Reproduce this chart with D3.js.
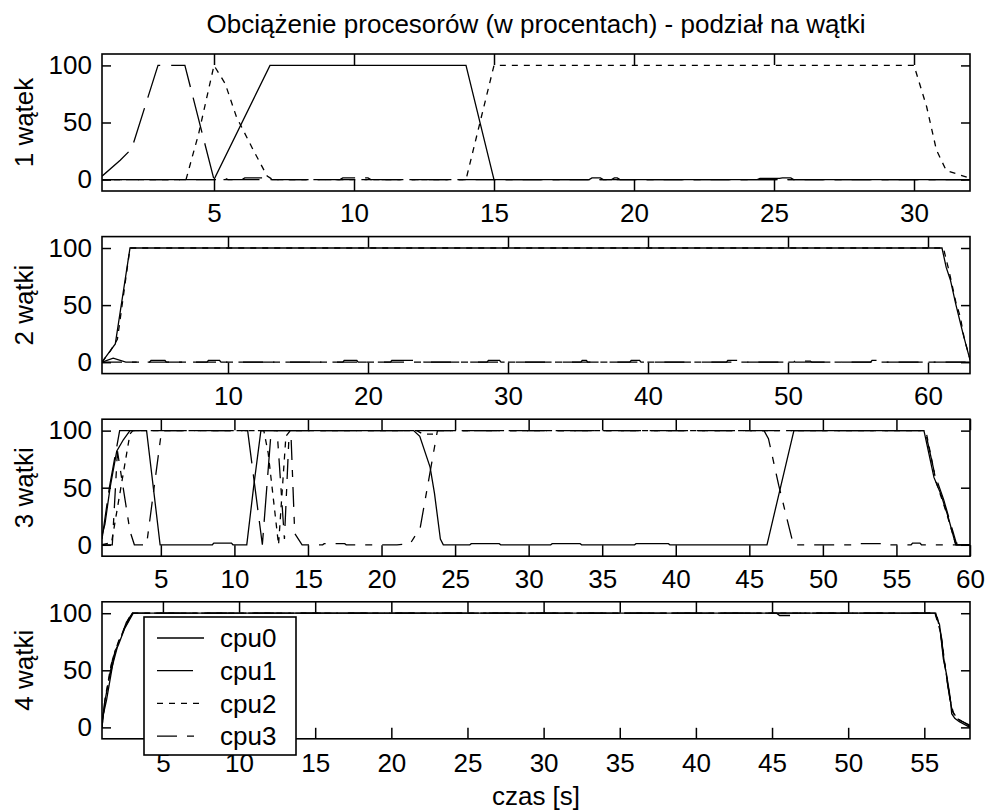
<!DOCTYPE html>
<html>
<head>
<meta charset="utf-8">
<script src="https://cdnjs.cloudflare.com/ajax/libs/d3/7.8.5/d3.min.js"></script>
<style>
  body { margin: 0; background: #fff; }
  text { font-family: "Liberation Sans", Arial, sans-serif; fill: #000; }
</style>
</head>
<body>
<script>
// Chart values: [time in s, load in %]
const cpuNames = ["cpu0", "cpu1", "cpu2", "cpu3"];
const panelLabels = ["1 wątek", "2 wątki", "3 wątki", "4 wątki"];
const tEnd = [32, 63, 60, 58];
const xTicks = [
  [5, 10, 15, 20, 25, 30],
  [10, 20, 30, 40, 50, 60],
  [5, 10, 15, 20, 25, 30, 35, 40, 45, 50, 55, 60],
  [5, 10, 15, 20, 25, 30, 35, 40, 45, 50, 55]
];
const yTicks = [0, 50, 100];

// 1 thread
const w1_cpu0 = [[1,0],[5,0],[7,100],[14,100],[15,0],[18.4,0],[18.5,1.5],[18.8,1.5],[18.9,0],[19.2,0],[19.3,1.5],[19.4,1.5],[19.5,0],[24.4,0],[24.5,1],[25.2,1],[25.3,1.5],[25.6,1.5],[25.7,0],[32,0]];
const w1_cpu1 = [[1,3],[1.65,17],[2.06,27],[3,100],[3.96,100],[5,0],[32,0]];
const w1_cpu2 = [[1,0],[4,0],[4.45,40],[5,100],[5.4,84],[5.8,55],[6.4,26],[6.9,3],[7.1,0],[14,0],[15,100],[30,100],[30.45,64],[30.8,26],[31.15,8],[31.9,2],[32,0]];
const w1_cpu3 = [[1,0],[5.3,0],[5.4,1],[5.5,0],[6,0],[6.1,1.5],[6.75,1.5],[6.85,0],[9.5,0],[9.6,1.5],[10.5,1.5],[10.6,0],[32,0]];

// 2 threads
const w2_cpu0 = [[1,0],[1.35,6],[1.95,16],[3,100],[61,100],[61.3,83],[61.6,72],[62,50],[62.5,25],[63,2]];
const w2_cpu1 = [[1,0],[1.8,3.5],[2.7,0],[4.4,0],[4.5,1.5],[5.5,1.5],[5.6,0],[8.5,0],[8.6,1.5],[9.4,1.5],[9.5,0],[18.2,0],[18.3,1.5],[19.2,1.5],[19.3,0],[21.6,0],[21.7,1.5],[23.9,1.5],[24,0],[28.5,0],[28.6,1.5],[29.4,1.5],[29.5,0],[38.7,0],[38.8,1.5],[39.4,1.5],[39.5,0],[45.6,0],[45.7,1.5],[46.6,1.5],[46.7,0],[55.9,0],[56,1.5],[56.6,1.5],[56.7,0],[63,0]];
const w2_cpu2 = [[1,0],[1.6,10],[2.1,20],[3,100],[61.1,100],[61.5,80],[62,52],[62.3,40],[62.6,20],[63,3]];
const w2_cpu3 = [[1,0],[35.2,0],[35.3,1.5],[35.6,1.5],[35.7,0],[50.4,0],[50.5,1],[51.6,1],[51.7,0],[63,0]];

// 3 threads
const w3_cpu0 = [[1,8],[1.2,18],[1.55,50],[2,82],[2.45,92],[2.9,100],[4.03,100],[4.95,0],[8.5,0],[8.6,1.5],[9.8,1.5],[9.9,0],[10.84,0],[11.3,50],[11.8,100],[22.18,100],[22.6,95],[23.3,68],[23.6,45],[24,5],[24.2,0],[26,0],[26.1,1],[28,1],[28.1,0],[31.5,0],[31.6,1],[33.5,1],[33.6,0],[37.2,0],[37.3,1],[39.5,1],[39.6,0],[46.2,0],[48.03,100],[56.87,100],[57.55,59],[58,45],[58.5,25],[59.03,0],[60,0]];
const w3_cpu1 = [[1,5],[1.5,50],[2.2,100],[10.9,100],[11.9,0],[12.5,100],[56.95,100],[57.6,62],[58.2,40],[59.1,0],[60,0]];
const w3_cpu2 = [[1,0],[1.65,2],[2.9,97],[3.1,100],[12,100],[12.3,80],[13,0],[13.5,95],[13.8,100],[22.4,100],[22.8,97],[23.5,97],[23.9,100],[57,100],[57.7,55],[58.4,28],[59,2],[59.4,0],[60,0]];
const w3_cpu3 = [[1,0],[1.7,0],[2.05,82],[2.9,12],[3.2,0],[4.03,0],[5.05,100],[12.9,100],[13.4,5],[13.7,92],[13.85,95],[14.1,10],[14.6,0],[16,0],[16.1,1],[17.5,1],[17.6,0],[21.05,0],[21.95,1],[22.63,15],[23.8,100],[46,100],[46.3,93],[47,52],[47.9,5],[48,0],[52,0],[52.1,1],[54,1],[54.1,0],[56,0],[56.1,1.5],[56.6,1.5],[56.7,0],[60,0]];

// 4 threads
const w4_cpu0 = [[1,2],[1.1,12],[1.3,24],[1.65,51],[1.85,67],[2.07,72],[2.5,87],[3.05,100],[55.7,100],[56,90],[56.25,60],[56.45,47],[56.7,26],[56.8,12],[57,8],[57.3,5],[58,0]];
const w4_cpu1 = [[1,0],[1.15,20],[1.5,45],[2,70],[2.6,92],[3,100],[55.75,100],[56.05,85],[56.3,58],[56.7,24],[56.9,9],[57.4,6],[58,1]];
const w4_cpu2 = [[1,0],[1.2,25],[1.6,55],[2.1,75],[2.9,100],[55.7,100],[56.1,82],[56.4,50],[56.75,20],[57,9],[57.6,4],[58,0]];
const w4_cpu3 = [[1,5],[1.3,30],[1.7,60],[2.2,80],[3,100],[45.3,100],[45.5,98],[46.3,98],[46.5,100],[55.8,100],[56.1,80],[56.5,40],[56.8,15],[57.2,7],[58,2]];

const panels = [
  [w1_cpu0, w1_cpu1, w1_cpu2, w1_cpu3],
  [w2_cpu0, w2_cpu1, w2_cpu2, w2_cpu3],
  [w3_cpu0, w3_cpu1, w3_cpu2, w3_cpu3],
  [w4_cpu0, w4_cpu1, w4_cpu2, w4_cpu3]
];

// line styles per cpu
const dashes = [null, "36,11", "6,6", "20,10,7,10"];

const W = 985, H = 811;
const left = 102, right = 970, top0 = 54, step = 182.6, ph = 137;
const fontSize = 26;

const svg = d3.select("body").append("svg")
  .attr("width", W).attr("height", H);

svg.append("rect").attr("width", W).attr("height", H).attr("fill", "#fff");

panels.forEach((series, i) => {
  const top = top0 + i * step;
  const x = d3.scaleLinear().domain([1, tEnd[i]]).range([left, right]);
  const y = d3.scaleLinear().domain([-10, 110]).range([top + ph, top]);

  const g = svg.append("g");

  g.append("clipPath").attr("id", "clip" + i)
    .append("rect")
    .attr("x", left).attr("y", top)
    .attr("width", right - left).attr("height", ph);

  const line = d3.line().x(d => x(d[0])).y(d => y(d[1]));

  g.append("g").attr("clip-path", `url(#clip${i})`)
    .selectAll("path")
    .data(series)
    .enter().append("path")
    .attr("d", d => line(d))
    .attr("fill", "none")
    .attr("stroke", "#000")
    .attr("stroke-width", 1.3)
    .attr("stroke-dasharray", (d, k) => dashes[k]);

  // ticks pointing inwards on all four sides
  g.append("g").attr("transform", `translate(0,${top + ph})`)
    .call(d3.axisBottom(x).tickValues(xTicks[i]).tickSize(-11).tickPadding(i === 3 ? 15 : 13));
  g.append("g").attr("transform", `translate(0,${top})`)
    .call(d3.axisTop(x).tickValues(xTicks[i]).tickSize(-11).tickFormat(""));
  g.append("g").attr("transform", `translate(${left},0)`)
    .call(d3.axisLeft(y).tickValues(yTicks).tickSize(-9).tickPadding(10));
  g.append("g").attr("transform", `translate(${right},0)`)
    .call(d3.axisRight(y).tickValues(yTicks).tickSize(-9).tickFormat(""));

  g.selectAll(".domain").remove();
  g.selectAll(".tick line").attr("stroke", "#000").attr("stroke-width", 1.5);
  g.selectAll(".tick text")
    .style("font-family", '"Liberation Sans", Arial, sans-serif')
    .style("font-size", fontSize + "px")
    .attr("fill", "#000");

  g.append("rect")
    .attr("x", left).attr("y", top)
    .attr("width", right - left).attr("height", ph)
    .attr("fill", "none").attr("stroke", "#000").attr("stroke-width", 1.6);

  g.append("text")
    .attr("transform", `translate(33,${top + ph / 2}) rotate(-90)`)
    .attr("text-anchor", "middle")
    .style("font-size", fontSize + "px")
    .text(panelLabels[i]);
});

svg.append("text")
  .attr("x", (left + right) / 2).attr("y", 33)
  .attr("text-anchor", "middle")
  .style("font-size", fontSize + "px")
  .text("Obciążenie procesorów (w procentach) - podział na wątki");

svg.append("text")
  .attr("x", (left + right) / 2).attr("y", 805)
  .attr("text-anchor", "middle")
  .style("font-size", fontSize + "px")
  .text("czas [s]");

// Legend over the last panel
const legend = svg.append("g").attr("transform", "translate(144,617)");
legend.append("rect")
  .attr("width", 152).attr("height", 138)
  .attr("fill", "#fff").attr("stroke", "#000").attr("stroke-width", 1.6);

cpuNames.forEach((name, k) => {
  const ly = 21 + k * 32.7;
  legend.append("line")
    .attr("x1", 13).attr("x2", 60)
    .attr("y1", ly).attr("y2", ly)
    .attr("stroke", "#000").attr("stroke-width", 1.3)
    .attr("stroke-dasharray", dashes[k]);
  legend.append("text")
    .attr("x", 76).attr("y", ly)
    .attr("dy", "0.35em")
    .style("font-size", fontSize + "px")
    .text(name);
});
</script>
</body>
</html>
